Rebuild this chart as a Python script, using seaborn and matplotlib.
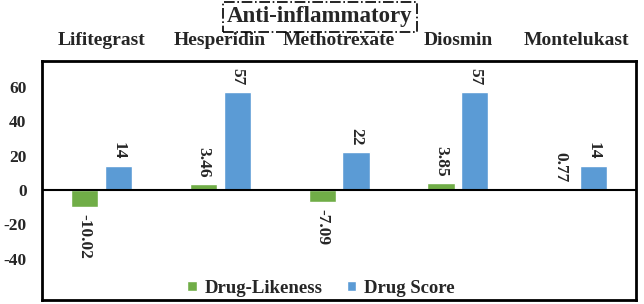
import numpy as np
import pandas as pd
import seaborn as sns
import matplotlib.pyplot as plt

drugs = ["Lifitegrast", "Hesperidin", "Methotrexate", "Diosmin", "Montelukast"]
likeness = [-10.02, 3.46, -7.09, 3.85, 0.77]
score = [14, 57, 22, 57, 14]
yticks = [-40, -20, 0, 20, 40, 60]

sns.set_style("white")
plt.rcParams['font.family'] = ['Liberation Serif', 'DejaVu Serif']
plt.rcParams['font.weight'] = 'bold'
plt.rcParams['axes.unicode_minus'] = False

df = pd.DataFrame({
    "drug": drugs * 2,
    "value": likeness + score,
    "kind": ["Drug-Likeness"] * len(drugs) + ["Drug Score"] * len(drugs),
})

fig = plt.figure(figsize=(6.44, 3.04), dpi=100)
ax = fig.add_axes([0.065, 0.013, 0.923, 0.786])

sns.barplot(data=df, x="drug", y="value", hue="kind", ax=ax,
            palette=["#70AD47", "#5B9BD5"], width=0.57, gap=0.2,
            saturation=1, errorbar=None)

for cont, fmt in zip(ax.containers, ["%.2f", "%g"]):
    ax.bar_label(cont, fmt=fmt, rotation=-90, padding=5,
                 fontsize=12.5, fontweight='bold')

ax.axhline(0, color='black', lw=1.5)
ax.set_ylim(-64, 75)
ax.set_yticks(yticks)
ax.set_xlabel("")
ax.set_ylabel("")
ax.xaxis.tick_top()
ax.tick_params(axis='x', length=0, pad=9, labelsize=14)
ax.tick_params(axis='y', length=0, pad=11, labelsize=12.5)
for lab in ax.get_xticklabels() + ax.get_yticklabels():
    lab.set_fontweight('bold')
for s in ax.spines.values():
    s.set_visible(True)
    s.set_color('black')
    s.set_linewidth(2)

ax.legend(loc='center', bbox_to_anchor=(0.47, 0.05), ncol=2, frameon=False,
          prop={'weight': 'bold', 'size': 13.5}, handlelength=0.5, handleheight=0.5,
          columnspacing=1.25, handletextpad=0.45)

fig.text(0.497, 0.945, "Anti-inflammatory", ha='center', va='center',
         fontsize=16.5, fontweight='bold',
         bbox=dict(boxstyle='square,pad=0.2', fc='white', ec='black', ls='-.', lw=1.2))

fig.savefig("out.png", dpi=100)
